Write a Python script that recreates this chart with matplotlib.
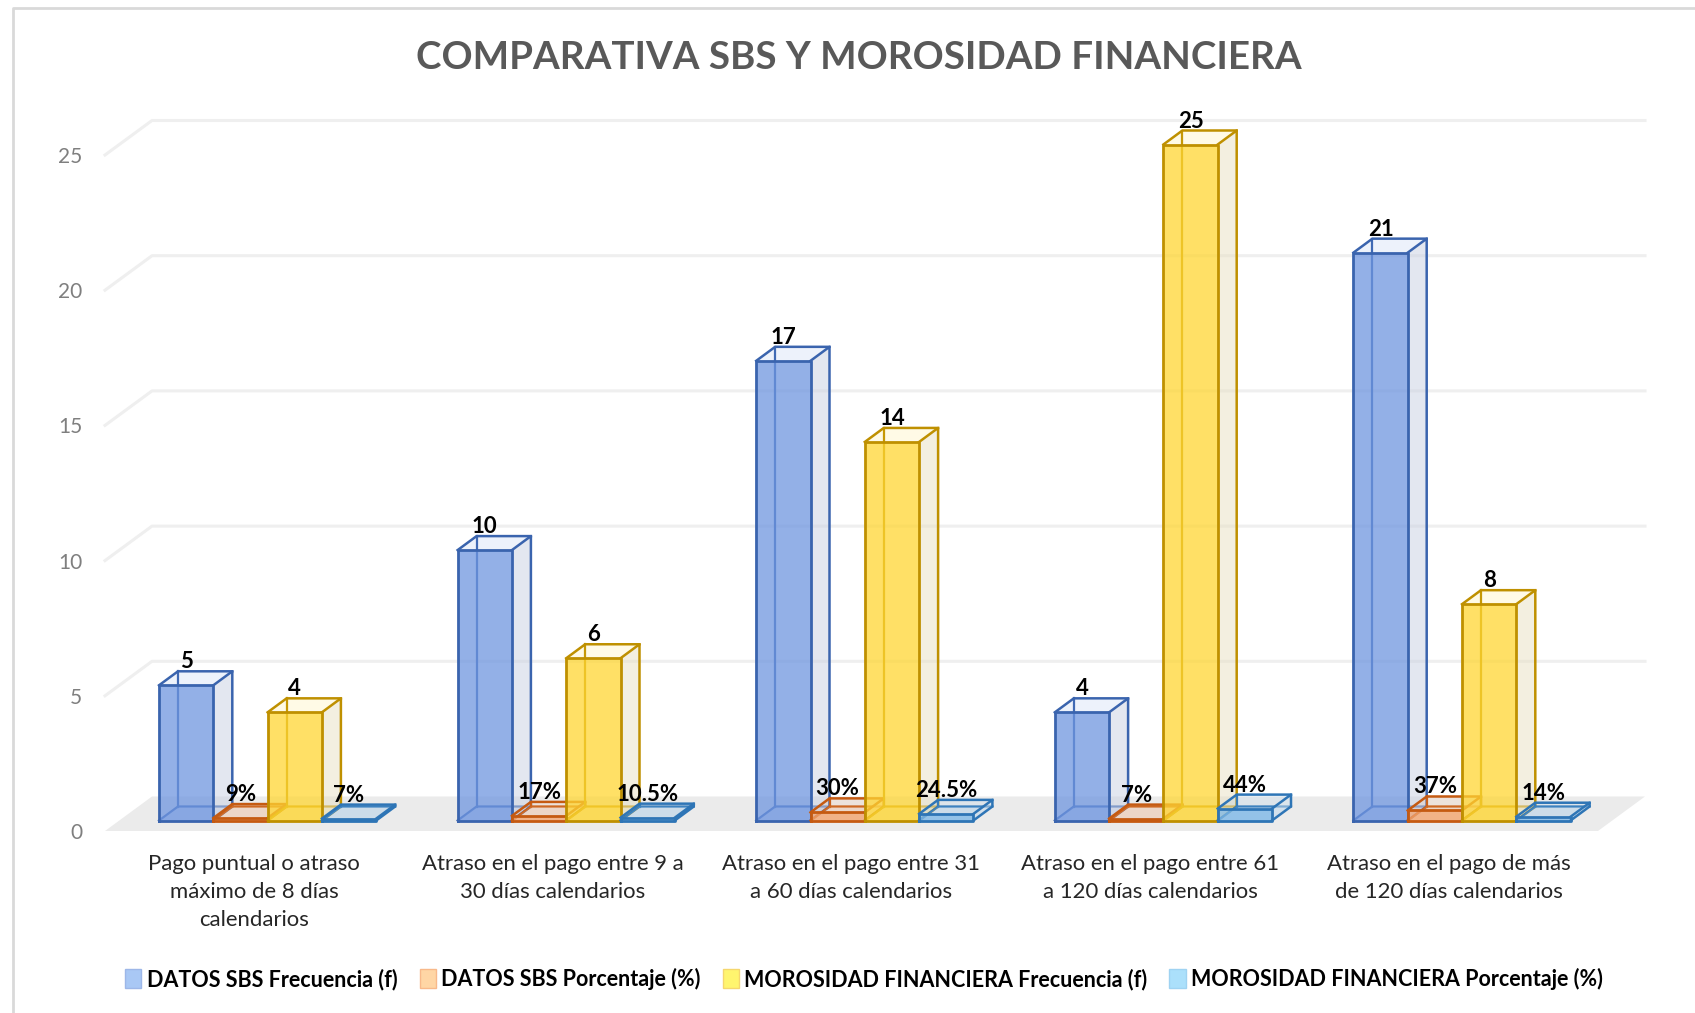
"""
Comparativa SBS y morosidad financiera: columnas con efecto 3D.
"""
import matplotlib
matplotlib.use('Agg')
import matplotlib.pyplot as plt
from matplotlib.patches import Polygon, Patch

plt.rcParams['font.family'] = ['Lato', 'DejaVu Sans']

categorias = [
    'Pago puntual o atraso\nmáximo de 8 días\ncalendarios',
    'Atraso en el pago entre 9 a\n30 días calendarios',
    'Atraso en el pago entre 31\na 60 días calendarios',
    'Atraso en el pago entre 61\na 120 días calendarios',
    'Atraso en el pago de más\nde 120 días calendarios',
]
sbs_frecuencia = [5, 10, 17, 4, 21]
sbs_porcentaje = [0.09, 0.17, 0.30, 0.07, 0.37]
mor_frecuencia = [4, 6, 14, 25, 8]
mor_porcentaje = [0.07, 0.105, 0.245, 0.44, 0.14]
ticks_y = [0, 5, 10, 15, 20, 25]
nombres = [
    'DATOS SBS Frecuencia (f)',
    'DATOS SBS Porcentaje (%)',
    'MOROSIDAD FINANCIERA Frecuencia (f)',
    'MOROSIDAD FINANCIERA Porcentaje (%)',
]

W, H = 1695, 1013
DPI = 100

# Medidas en pixeles del plano frontal
AX_L, AX_R, AX_B = 105, 1598, 831
UNIT_Y = 27.04
UNIT_X = (AX_R - AX_L) / 5
YMAX = 27

# Profundidad del piso (en unidades de datos)
FLOOR_DX = 47 / UNIT_X
FLOOR_DY = 34.5 / UNIT_Y
# Frente y fondo de las columnas dentro del piso
GROUP_PAD = 40.5 / UNIT_X
BAR_X0 = 13.5 / UNIT_X
BAR_Y0 = 10.5 / UNIT_Y
BAR_DX = 19 / UNIT_X
BAR_DY = 14 / UNIT_Y
BAR_W = 54.3 / UNIT_X

estilos = [
    {'front': '#6F96E0', 'edge': '#3A64AE', 'side': '#C9D0E2', 'legend': '#A9C8F5', 'ledge': '#9DB7E8'},
    {'front': '#F4A46E', 'edge': '#C55A11', 'side': '#F3DFD0', 'legend': '#FFD6A5', 'ledge': '#F8B98A'},
    {'front': '#FFD633', 'edge': '#BF9000', 'side': '#E8E0C2', 'legend': '#FFF56E', 'ledge': '#F5D76E'},
    {'front': '#7DB8E8', 'edge': '#2E75B6', 'side': '#CFE0EE', 'legend': '#ABE0FB', 'ledge': '#9FD3F2'},
]


def barra_3d(ax, x, valor, estilo, z):
    """Dibuja una columna translucida con caras, aristas y fondo visibles."""
    x0 = x + BAR_X0
    x1 = x0 + BAR_W
    y0 = BAR_Y0
    y1 = y0 + valor
    dx, dy = BAR_DX, BAR_DY
    ec = estilo['edge']
    caras = [
        ([(x0, y0), (x1, y0), (x1 + dx, y0 + dy), (x0 + dx, y0 + dy)], 0.18),  # base
        ([(x1, y0), (x1 + dx, y0 + dy), (x1 + dx, y1 + dy), (x1, y1)], 0.5),   # lado
        ([(x0, y1), (x1, y1), (x1 + dx, y1 + dy), (x0 + dx, y1 + dy)], 0.12),  # tapa
        ([(x0, y0), (x1, y0), (x1, y1), (x0, y1)], 0.75),                      # frente
    ]
    # Aristas traseras primero
    ax.plot([x0 + dx, x0 + dx], [y0 + dy, y1 + dy], color=ec, lw=1.6, zorder=z, clip_on=False)
    ax.plot([x0, x0 + dx, x1 + dx], [y0, y0 + dy, y0 + dy], color=ec, lw=1.6, zorder=z, clip_on=False)
    for i, (pts, alpha) in enumerate(caras):
        fc = estilo['side'] if i == 1 else estilo['front']
        ax.add_patch(Polygon(pts, closed=True, facecolor=fc, alpha=alpha, edgecolor='none',
                             zorder=z, clip_on=False))
    ax.plot([x0, x1, x1, x0, x0], [y0, y0, y1, y1, y0], color=ec, lw=2.0, zorder=z + 0.2, clip_on=False)
    ax.plot([x1, x1 + dx, x1 + dx, x1], [y1, y1 + dy, y0 + dy, y0], color=ec, lw=1.8, zorder=z + 0.1, clip_on=False)
    ax.plot([x0, x0 + dx, x1 + dx], [y1, y1 + dy, y1 + dy], color=ec, lw=1.8, zorder=z + 0.1, clip_on=False)


fig = plt.figure(figsize=(W / DPI, H / DPI), dpi=DPI)
ax = fig.add_axes([AX_L / W, 1 - AX_B / H, (AX_R - AX_L) / W, YMAX * UNIT_Y / H])
ax.set_xlim(-0.5, 4.5)
ax.set_ylim(0, YMAX)
ax.patch.set_alpha(0)
for s in ax.spines.values():
    s.set_visible(False)

# Marco del grafico
fig.add_artist(plt.Line2D([13 / W, 13 / W, 1], [0, 1 - 8 / H, 1 - 8 / H],
                          color='#D9D9D9', lw=2))

# Piso
xl, xr = ax.get_xlim()
ax.add_patch(Polygon([(xl, 0), (xr, 0), (xr + FLOOR_DX, FLOOR_DY), (xl + FLOOR_DX, FLOOR_DY)],
                     closed=True, facecolor='#EBEBEB', edgecolor='none', zorder=1, clip_on=False))

# Rejilla en pared lateral y pared del fondo
for t in ticks_y[1:]:
    ax.plot([xl, xl + FLOOR_DX, xr + FLOOR_DX], [t, t + FLOOR_DY, t + FLOOR_DY],
            color='#EFEFEF', lw=2.2, zorder=1, clip_on=False)

series = [sbs_frecuencia, sbs_porcentaje, mor_frecuencia, mor_porcentaje]
for c in range(len(categorias)):
    for s, valores in enumerate(series):
        x = c - 0.5 + GROUP_PAD + s * BAR_W
        barra_3d(ax, x, valores[c], estilos[s], 3 + s + 5 * c)
        v = valores[c]
        texto = f'{v * 100:g}%' if s % 2 else f'{v:g}'
        ax.text(x + BAR_X0 + BAR_W / 2, BAR_Y0 + v + BAR_DY - 1 / UNIT_Y, texto, ha='center', va='bottom',
                fontsize=16, fontweight='bold', color='black', zorder=50, clip_on=False)

ax.set_xticks(range(len(categorias)))
ax.set_xticklabels(categorias, fontsize=15.9, color='#262626', linespacing=1.51)
ax.set_yticks(ticks_y)
ax.set_yticklabels([str(t) for t in ticks_y], fontsize=15, color='#7F7F7F')
ax.tick_params(axis='both', length=0)
ax.tick_params(axis='x', pad=16.6)
ax.tick_params(axis='y', pad=16.5)

fig.text(858.5 / W, 1 - 58 / H, 'COMPARATIVA SBS Y MOROSIDAD FINANCIERA', ha='center', va='center',
         fontsize=27.7, fontweight='bold', color='#595959')

handles = [Patch(facecolor=e['legend'], edgecolor=e['ledge'], label=n) for e, n in zip(estilos, nombres)]
fig.legend(handles=handles, loc='center', bbox_to_anchor=(864 / W, 1 - 979 / H), ncols=4, frameon=False,
           prop={'size': 15.5, 'weight': 'bold'}, handlelength=0.75, handleheight=0.95,
           handletextpad=0.25, columnspacing=1.03)

fig.savefig('out.png', dpi=DPI)
